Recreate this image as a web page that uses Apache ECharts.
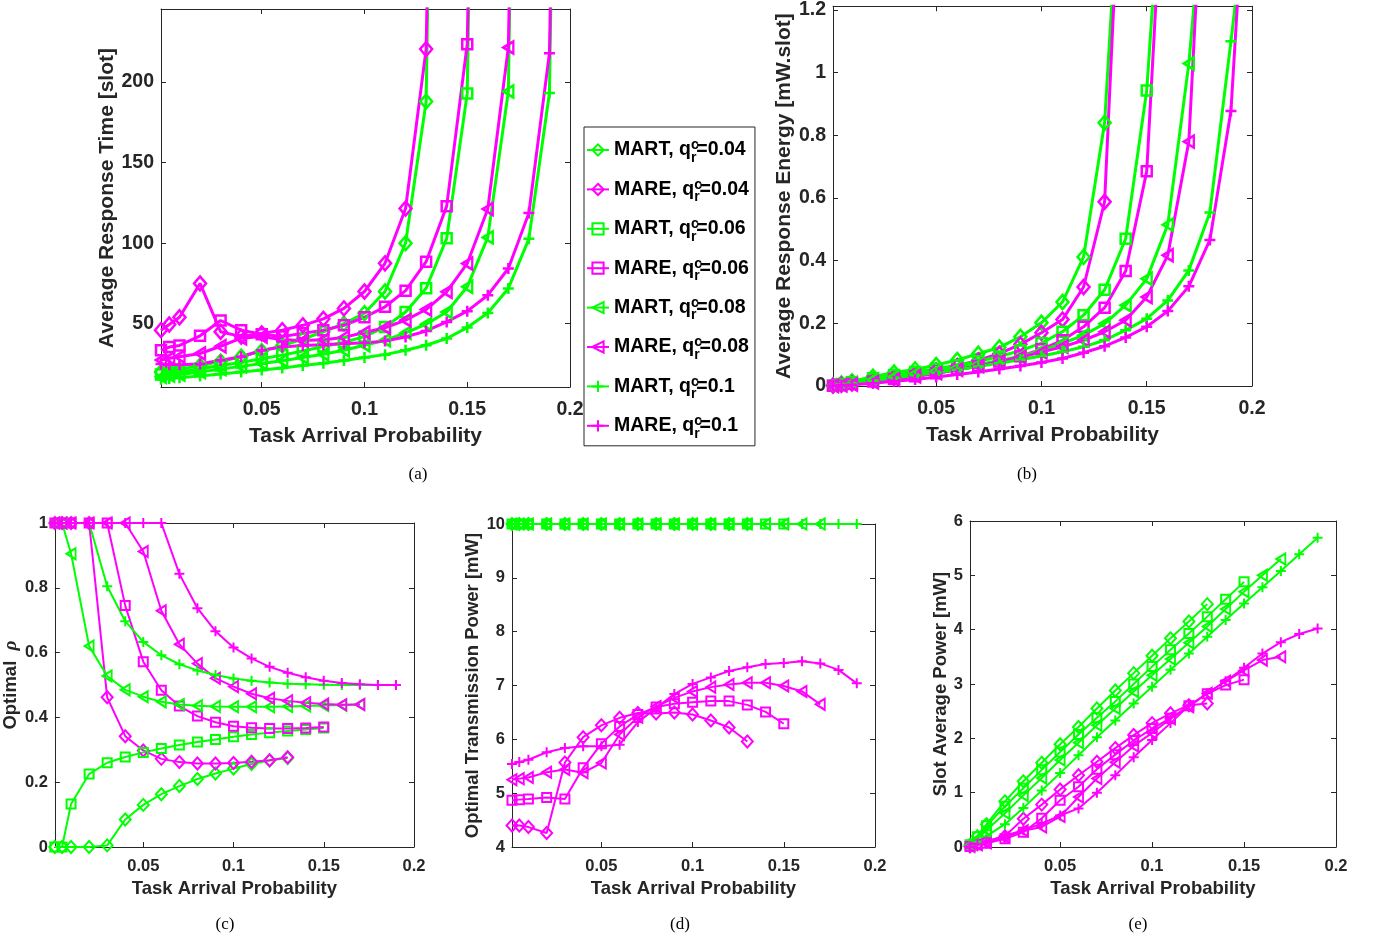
<!DOCTYPE html>
<html><head><meta charset="utf-8">
<script src="https://cdn.jsdelivr.net/npm/echarts@6/dist/echarts.min.js"></script>
<style>html,body{margin:0;padding:0;background:#fff}#c{width:1373px;height:943px}</style>
</head><body><div id="c"></div>
<script>
// ---------- data ----------
const X_ALL = [0.001,0.005,0.01,0.02,0.03,0.04,0.05,0.06,0.07,0.08,0.09,0.10,0.11,0.12,0.13,0.14,0.15,0.16,0.17,0.18,0.19];
const SERIES_NAMES = ['MART, q=0.04','MARE, q=0.04','MART, q=0.06','MARE, q=0.06','MART, q=0.08','MARE, q=0.08','MART, q=0.1','MARE, q=0.1'];
const X_TICKS = [0.05,0.1,0.15,0.2];
// next arrival probability (beyond the plotted range, off the top of (a) and (b))
const OFFSCALE_X = [0.14,0.14,0.16,0.16,0.18,0.18,0.20,0.20];

// (a) average response time [slot]
const RT_MART_004 = [20,20.8,21.8,24,26.5,29.5,33,36.5,40.5,45,50,56.5,70,100,188];
const RT_MARE_004 = [46,49.5,54,75,45,42,44,46,49,53,59.5,70,87.5,121.5,220.5];
const RT_MART_006 = [18.5,19.3,20,22,24,26,28.3,30.5,33,35.8,38.5,42,48,57.3,72,103,193];
const RT_MARE_006 = [33.5,35.5,36.5,42.5,52,46,43.5,42,44,46,49,54,60.5,70.5,88.5,123,223.5];
const RT_MART_008 = [17,17.8,18.5,20,21.8,23.5,25.3,27,29,31,33.5,36.6,39.7,44.3,49.7,57.3,72.9,103.6,194.2];
const RT_MARE_008 = [27.5,28.5,29.5,31.5,36,41,42,40,39.5,40,41.5,44.5,47.5,52.2,58.8,69.8,87.4,121.2,221.5];
const RT_MART_01  = [15.5,16,16.5,17.5,18.8,20,21.3,22.5,24,25.5,27.2,29,30.8,33.5,36.6,40.8,47.6,56.7,71.9,102.7,193.2];
const RT_MARE_01  = [25,24.5,24.5,25,27.3,29.5,33.5,35.5,36.5,37,37.5,38.1,39.3,41.8,45.5,51.1,57.8,67.7,84.3,118.7,218];
const RT_OFFSCALE = [1000,900,1000,900,1000,900,1000,900];

// (b) average response energy [mW.slot]
const EN_MART_004 = [0.002,0.008,0.015,0.03,0.043,0.053,0.067,0.083,0.103,0.123,0.157,0.202,0.268,0.412,0.840];
const EN_MARE_004 = [0.001,0.004,0.008,0.018,0.028,0.038,0.05,0.064,0.082,0.103,0.133,0.17,0.212,0.316,0.588];
const EN_MART_006 = [0.001,0.006,0.012,0.025,0.035,0.045,0.055,0.066,0.079,0.094,0.113,0.137,0.173,0.226,0.307,0.470,0.943];
const EN_MARE_006 = [0.001,0.003,0.006,0.014,0.022,0.031,0.041,0.052,0.064,0.078,0.095,0.117,0.146,0.189,0.250,0.367,0.685];
const EN_MART_008 = [0.001,0.005,0.01,0.021,0.03,0.039,0.048,0.058,0.069,0.081,0.095,0.113,0.136,0.162,0.199,0.258,0.342,0.515,1.029];
const EN_MARE_008 = [0.0005,0.002,0.005,0.012,0.021,0.031,0.041,0.052,0.064,0.078,0.092,0.108,0.125,0.146,0.173,0.210,0.284,0.417,0.780];
const EN_MART_01  = [0.001,0.004,0.008,0.017,0.026,0.034,0.043,0.052,0.062,0.073,0.084,0.096,0.109,0.125,0.146,0.178,0.215,0.273,0.369,0.554,1.100];
const EN_MARE_01  = [0.0005,0.002,0.004,0.009,0.015,0.021,0.029,0.037,0.045,0.054,0.064,0.075,0.088,0.106,0.127,0.155,0.189,0.239,0.318,0.466,0.878];
const EN_OFFSCALE = [1.96,2.04,1.93,1.92,1.79,2.08,1.68,1.99];

// (c) optimal rho
const RHO_MART_004 = [0,0,0,0,0.005,0.085,0.13,0.163,0.188,0.21,0.227,0.242,0.256,0.267,0.275];
const RHO_MARE_004 = [1,1,1,1,0.462,0.342,0.298,0.272,0.262,0.258,0.258,0.259,0.263,0.268,0.277];
const RHO_MART_006 = [0,0,0.133,0.225,0.26,0.278,0.292,0.304,0.315,0.324,0.332,0.34,0.347,0.353,0.358,0.363,0.367];
const RHO_MARE_006 = [1,1,1,1,1,0.745,0.572,0.484,0.435,0.404,0.385,0.373,0.368,0.366,0.366,0.367,0.37];
const RHO_MART_008 = [1,1,0.905,0.62,0.528,0.485,0.464,0.448,0.44,0.436,0.434,0.433,0.433,0.433,0.434,0.435,0.437,0.438,0.44];
const RHO_MARE_008 = [1,1,1,1,1,1,0.912,0.729,0.626,0.566,0.521,0.495,0.473,0.459,0.451,0.445,0.441,0.439,0.44];
const RHO_MART_01  = [1,1,1,1,0.805,0.697,0.633,0.592,0.564,0.545,0.531,0.52,0.513,0.508,0.504,0.502,0.501,0.5,0.5,0.5,0.5];
const RHO_MARE_01  = [1,1,1,1,1,1,1,1,0.843,0.737,0.666,0.616,0.582,0.556,0.538,0.524,0.513,0.506,0.502,0.5,0.5];

// (d) optimal transmission power [mW]
const PW_MART_004 = [10,10,10,10,10,10,10,10,10,10,10,10,10,10,10];
const PW_MARE_004 = [4.40,4.40,4.37,4.26,5.57,6.04,6.26,6.40,6.49,6.48,6.50,6.46,6.35,6.22,5.96];
const PW_MART_006 = [10,10,10,10,10,10,10,10,10,10,10,10,10,10,10,10,10];
const PW_MARE_006 = [4.87,4.88,4.89,4.92,4.89,5.47,5.92,6.24,6.46,6.6,6.66,6.69,6.71,6.71,6.64,6.51,6.29];
const PW_MART_008 = [10,10,10,10,10,10,10,10,10,10,10,10,10,10,10,10,10,10,10];
const PW_MARE_008 = [5.25,5.27,5.29,5.39,5.44,5.38,5.56,6.09,6.41,6.61,6.77,6.89,6.97,7.02,7.05,7.05,6.99,6.89,6.65];
const PW_MART_01  = [10,10,10,10,10,10,10,10,10,10,10,10,10,10,10,10,10,10,10,10,10];
const PW_MARE_01  = [5.54,5.58,5.62,5.76,5.84,5.87,5.87,5.90,6.32,6.58,6.84,7.03,7.15,7.27,7.34,7.40,7.42,7.45,7.41,7.29,7.04];

// (e) slot average power [mW]
const SP_MART_004 = [0.04,0.2,0.42,0.84,1.21,1.55,1.89,2.21,2.55,2.88,3.2,3.52,3.84,4.15,4.47];
const SP_MARE_004 = [0.01,0.05,0.1,0.2,0.52,0.78,1.06,1.32,1.57,1.82,2.06,2.28,2.46,2.61,2.64];
const SP_MART_006 = [0.04,0.19,0.39,0.75,1.08,1.42,1.75,2.07,2.38,2.68,3.0,3.32,3.63,3.93,4.24,4.56,4.88];
const SP_MARE_006 = [0.01,0.04,0.07,0.15,0.27,0.53,0.86,1.11,1.43,1.7,1.96,2.18,2.37,2.6,2.82,2.98,3.08];
const SP_MART_008 = [0.03,0.15,0.31,0.62,0.95,1.27,1.6,1.92,2.24,2.55,2.86,3.16,3.46,3.76,4.06,4.38,4.7,5.0,5.3];
const SP_MARE_008 = [0.01,0.04,0.08,0.18,0.3,0.37,0.56,0.92,1.26,1.56,1.86,2.1,2.36,2.58,2.83,3.05,3.25,3.44,3.5];
const SP_MART_01  = [0.02,0.1,0.2,0.42,0.72,1.04,1.36,1.69,2.02,2.33,2.64,2.95,3.26,3.56,3.87,4.18,4.48,4.78,5.08,5.39,5.69];
const SP_MARE_01  = [0.01,0.05,0.1,0.21,0.31,0.43,0.58,0.71,1.0,1.32,1.65,1.97,2.28,2.6,2.83,3.05,3.3,3.56,3.77,3.92,4.02];

// ---------- style ----------
const FONT = '"Liberation Sans", Arial, Helvetica, sans-serif';
const AX = '#262626';
const COLORS = ['#00ff00','#ff00ff'];
const SYM = [
  'path://M0,-1L1,0L0,1L-1,0Z',
  'path://M-1,-1L1,-1L1,1L-1,1Z',
  'path://M-1,0L1,-1L1,1Z',
  'path://M0,-1L0,1M-1,0L1,0'
];

const PANELS = [
  {grid:{left:161,top:9,width:409,height:378}, y:[10.7,245.4], yt:[50,100,150,200],
   series:[RT_MART_004,RT_MARE_004,RT_MART_006,RT_MARE_006,RT_MART_008,RT_MARE_008,RT_MART_01,RT_MARE_01], off:RT_OFFSCALE,
   big:true, yname:'Average Response Time [slot]', ynameGap:42, xnameGap:39},
  {grid:{left:833,top:5,width:419,height:381}, y:[0,1.212], yt:[0,0.2,0.4,0.6,0.8,1,1.2],
   series:[EN_MART_004,EN_MARE_004,EN_MART_006,EN_MARE_006,EN_MART_008,EN_MARE_008,EN_MART_01,EN_MARE_01], off:EN_OFFSCALE,
   big:true, yname:'Average Response Energy [mW.slot]', ynameGap:38, xnameGap:39},
  {grid:{left:54,top:523,width:360,height:324}, y:[0,1], yt:[0,0.2,0.4,0.6,0.8,1],
   series:[RHO_MART_004,RHO_MARE_004,RHO_MART_006,RHO_MARE_006,RHO_MART_008,RHO_MARE_008,RHO_MART_01,RHO_MARE_01],
   big:false, yname:'{n|Optimal  }{r|ρ}', ynameGap:30, xnameGap:32},
  {grid:{left:512,top:524,width:363,height:323}, y:[4,10], yt:[4,5,6,7,8,9,10],
   series:[PW_MART_004,PW_MARE_004,PW_MART_006,PW_MARE_006,PW_MART_008,PW_MARE_008,PW_MART_01,PW_MARE_01],
   big:false, yname:'Optimal Transmission Power [mW]', ynameGap:23, xnameGap:32},
  {grid:{left:970,top:521,width:366,height:326}, y:[0,6], yt:[0,1,2,3,4,5,6],
   series:[SP_MART_004,SP_MARE_004,SP_MART_006,SP_MARE_006,SP_MART_008,SP_MARE_008,SP_MART_01,SP_MARE_01],
   big:false, yname:'Slot Average Power [mW]', ynameGap:17, xnameGap:32}
];

const grids = [], xAxes = [], yAxes = [], series = [];
PANELS.forEach((p, gi) => {
  grids.push(Object.assign({containLabel:false}, p.grid));
  const tickFs = p.big ? 19.5 : 16.5, nameFs = p.big ? 21 : 18.5;
  const lineAx = {show:true, onZero:false, lineStyle:{color:AX, width:1}};
  const tick = vals => ({show:true, inside:true, length:5, customValues:vals, lineStyle:{color:AX, width:1}});
  const lbl = (vals, m) => ({show:true, customValues:vals, fontSize:tickFs, fontWeight:'bold', fontFamily:FONT, color:AX, margin:m});
  const nameStyle = {fontSize:nameFs, fontWeight:'bold', fontFamily:FONT, color:AX,
    rich:{n:{fontSize:nameFs, fontWeight:'bold', fontFamily:FONT, color:AX}, r:{fontSize:nameFs+1, fontStyle:'italic', fontFamily:'"Liberation Serif", serif', color:AX}}};
  xAxes.push({type:'value', gridIndex:gi, position:'bottom', min:0.001, max:0.2,
    axisLine:lineAx, axisTick:tick(X_TICKS), axisLabel:lbl(X_TICKS, p.big ? 13 : 11), splitLine:{show:false},
    name:'Task Arrival Probability', nameLocation:'middle', nameGap:p.xnameGap, nameTextStyle:nameStyle});
  xAxes.push({type:'value', gridIndex:gi, position:'top', min:0.001, max:0.2,
    axisLine:lineAx, axisTick:tick(X_TICKS), axisLabel:{show:false}, splitLine:{show:false}});
  yAxes.push({type:'value', gridIndex:gi, position:'left', min:p.y[0], max:p.y[1],
    axisLine:lineAx, axisTick:tick(p.yt), axisLabel:lbl(p.yt, 7), splitLine:{show:false},
    name:p.yname, nameLocation:'middle', nameRotate:90, nameGap:p.ynameGap, nameTextStyle:nameStyle});
  yAxes.push({type:'value', gridIndex:gi, position:'right', min:p.y[0], max:p.y[1],
    axisLine:lineAx, axisTick:tick(p.yt), axisLabel:{show:false}, splitLine:{show:false}});

  p.series.forEach((vals, si) => {
    const color = COLORS[si % 2];
    const shape = Math.floor(si / 2);
    const data = vals.map((v, i) => [X_ALL[i], v]);
    if (p.off) data.push([OFFSCALE_X[si], p.off[si]]);
    const sizesBig = [[12,14],10,[10,12],11];
    const sizesSmall = [[11,12],9,[9,11],10];
    series.push({
      type:'line', name:SERIES_NAMES[si], xAxisIndex:gi*2, yAxisIndex:gi*2,
      data, clip:true, symbol:SYM[shape],
      symbolSize:(p.big ? sizesBig : sizesSmall)[shape],
      showAllSymbol:true,
      lineStyle:{color, width:p.big ? 3 : 2},
      itemStyle:{color:'rgba(0,0,0,0)', borderColor:color, borderWidth:p.big ? 2.5 : 2},
      emphasis:{disabled:true}, silent:true
    });
  });
});

const CAPTIONS = [['(a)',418,475],['(b)',1027,475],['(c)',225,925],['(d)',680,925],['(e)',1138,925]];

const chart = echarts.init(document.getElementById('c'), null, {renderer:'canvas'});
chart.setOption({
  animation:false,
  backgroundColor:'#fff',
  grid:grids, xAxis:xAxes, yAxis:yAxes, series,
  legend:{
    data:SERIES_NAMES, orient:'vertical', left:584, top:127,
    padding:[7,6,4,2], itemGap:7.4, itemWidth:22, itemHeight:14,
    borderColor:AX, borderWidth:1, backgroundColor:'#fff', selectedMode:false,
    formatter: name => { const parts = name.split(', q='); return '{t|' + parts[0] + ', q}{c|c}{r|r}{t|=' + parts[1] + '}'; },
    textStyle:{rich:{
      t:{fontSize:19.5, fontWeight:'bold', fontFamily:FONT, color:'#000', lineHeight:32, verticalAlign:'middle'},
      c:{fontSize:14, fontWeight:'bold', fontFamily:FONT, color:'#000', width:0, height:23, lineHeight:23, verticalAlign:'top'},
      r:{fontSize:14, fontWeight:'bold', fontFamily:FONT, color:'#000', height:16, lineHeight:16, verticalAlign:'bottom'}
    }}
  },
  graphic: CAPTIONS.map(c => ({type:'text', x:c[1], y:c[2], silent:true,
    style:{text:c[0], font:'17px "Liberation Serif", "Times New Roman", serif', fill:'#000', textAlign:'center', textVerticalAlign:'middle'}}))
});
</script></body></html>
